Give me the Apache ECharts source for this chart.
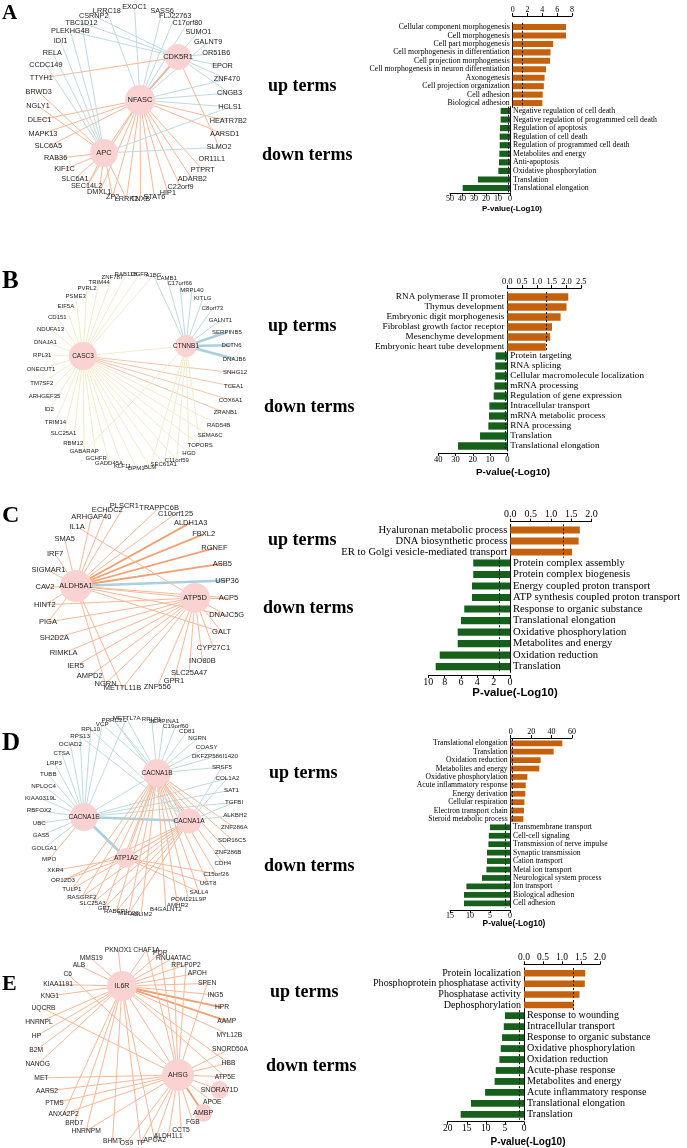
<!DOCTYPE html>
<html>
<head>
<meta charset="utf-8">
<script src="https://cdn.jsdelivr.net/npm/echarts@6/dist/echarts.min.js"></script>
<style>
html, body { margin: 0; padding: 0; background: #fff; }
#main { width: 687px; height: 1148px; }
</style>
</head>
<body>
<div id="main"></div>
<script>
// ---- data: GO terms, -log10 p-values, tick labels, networks ----
var pCut = 1.3;

var aUpTerms = ['Cellular component morphogenesis', 'Cell morphogenesis', 'Cell part morphogenesis', 'Cell morphogenesis in differentiation', 'Cell projection morphogenesis', 'Cell morphogenesis in neuron differentiation', 'Axonogenesis', 'Cell projection organization', 'Cell adhesion', 'Biological adhesion'];
var aUpValues = [7.2, 7.2, 5.45, 5.1, 5.05, 4.5, 4.3, 4.2, 4.05, 4.0];
var aDownTerms = ['Negative regulation of cell death', 'Negative regulation of programmed cell death', 'Regulation of apoptosis', 'Regulation of cell death', 'Regulation of programmed cell death', 'Metabolites and energy', 'Anti-apoptosis', 'Oxidative phosphorylation', 'Translation', 'Translational elongation'];
var aDownValues = [7.8, 7.8, 8.3, 8.6, 8.6, 8.9, 9.2, 9.7, 26.7, 39.4];
var aUpTicks = ['0', '2', '4', '6', '8'];
var aDownTicks = ['0', '10', '20', '30', '40', '50'];
// ring order clockwise from the top, null = empty slot
var aRing = ['EXOC1', null, 'SASS6', 'FLJ22763', 'C17orf80', 'SUMO1', 'GALNT9', 'OR51B6', 'EPOR', 'ZNF470', 'CNGB3', 'HCLS1', 'HEATR7B2', 'AARSD1', 'SLMO2', 'OR11L1', 'PTPRT', 'ADARB2', 'C22orf9', 'HIP1', 'STAT6', 'TNXB', 'LRRK2', 'ZP2', 'DMXL1', 'SEC14L2', 'SLC6A1', 'KIF1C', 'RAB36', 'SLC6A5', 'MAPK13', 'DLEC1', 'NGLY1', 'BRWD3', 'TTYH1', 'CCDC149', 'RELA', 'IDI1', 'PLEKHG4B', 'TBC1D12', 'CSRNP2', 'LRRC18', null];
var aLinks = [
    ['NFASC', 'ot', ['CDK5R1']],
    ['NFASC', 'o', ['APC', 'TNXB', 'LRRK2', 'ZP2', 'STAT6', 'HIP1', 'C22orf9', 'ADARB2', 'PTPRT', 'HEATR7B2', 'DLEC1', 'MAPK13', 'SLC6A5', 'DMXL1', 'SEC14L2', 'AARSD1']],
    ['NFASC', 'b', ['LRRC18', 'EXOC1', 'SASS6', 'FLJ22763', 'C17orf80', 'SUMO1', 'GALNT9', 'ZNF470', 'CNGB3', 'HCLS1']],
    ['CDK5R1', 'o', ['TTYH1', 'SLMO2']],
    ['CDK5R1', 'b', ['TBC1D12', 'CSRNP2', 'PLEKHG4B', 'OR51B6', 'EPOR', 'ZNF470', 'CNGB3']],
    ['APC', 'o', ['BRWD3', 'NGLY1', 'RAB36', 'KIF1C', 'SLC6A1', 'SEC14L2', 'DMXL1', 'ZP2', 'LRRK2']],
    ['APC', 'b', ['IDI1', 'RELA', 'CCDC149', 'PLEKHG4B', 'TBC1D12', 'SLMO2', 'HCLS1']]
];

var bUpTerms = ['RNA polymerase II promoter', 'Thymus development', 'Embryonic digit morphogenesis', 'Fibroblast growth factor receptor', 'Mesenchyme development', 'Embryonic heart tube development'];
var bUpValues = [2.06, 2.0, 1.8, 1.51, 1.45, 1.3];
var bDownTerms = ['Protein targeting', 'RNA splicing', 'Cellular macromolecule localization', 'mRNA processing', 'Regulation of gene expression', 'Intracellular transport', 'mRNA metabolic process', 'RNA processing', 'Translation', 'Translational elongation'];
var bDownValues = [6.8, 7.0, 7.0, 7.5, 7.9, 10.4, 10.6, 11.0, 15.8, 28.6];
var bUpTicks = ['0.0', '0.5', '1.0', '1.5', '2.0', '2.5'];
var bDownTicks = ['0', '10', '20', '30', '40'];
var bRing = ['OGFR', 'A1BG', 'LAMB1', 'C17orf66', 'MRPL40', 'KITLG', 'C8orf73', 'GALNT1', 'SERPINB5', 'DCTN6', 'DNAJB6', 'SNHG12', 'TCEA1', 'COX6A1', 'ZRANB1', 'RAD54B', 'SEMA6C', 'TOPORS', 'HGD', 'C11orf59', 'SEC61A1', 'BLM', 'DPM1', 'KLF11', 'GADD45A', 'GCHFR', 'GABARAP', 'RBM12', 'SLC25A1', 'TRIM14', 'ID2', 'ARHGEF35', 'TM7SF2', 'ONECUT1', 'RPL31', 'DNAJA1', 'NDUFA13', 'CD151', 'EIF5A', 'PSME3', 'PVRL2', 'TRIM44', 'ZNF787', 'RAB11B'];
var bLinks = [
    ['CASC3', 'f', ['OGFR', 'A1BG', 'RAB11B', 'ZNF787', 'TRIM44', 'PVRL2', 'PSME3', 'EIF5A', 'CD151', 'NDUFA13', 'DNAJA1', 'RPL31', 'ONECUT1', 'TM7SF2', 'ARHGEF35', 'ID2', 'TRIM14', 'SLC25A1', 'RBM12', 'GABARAP', 'GCHFR', 'GADD45A', 'KLF11', 'DPM1', 'BLM', 'SEC61A1', 'C11orf59', 'HGD', 'TOPORS', 'SEMA6C', 'RAD54B', 'CTNNB1']],
    ['CASC3', 's', ['SNHG12', 'TCEA1', 'COX6A1', 'ZRANB1']],
    ['CTNNB1', 'b', ['A1BG', 'LAMB1', 'C17orf66', 'MRPL40', 'KITLG', 'C8orf73', 'GALNT1']],
    ['CTNNB1', 'bt', ['SERPINB5', 'DCTN6', 'DNAJB6']],
    ['CTNNB1', 'f', ['HGD', 'C11orf59', 'SEC61A1', 'TOPORS', 'BLM', 'GABARAP']]
];

var cUpTerms = ['Hyaluronan metabolic process', 'DNA biosynthetic process', 'ER to Golgi vesicle-mediated transport'];
var cUpValues = [1.71, 1.68, 1.52];
var cDownTerms = ['Protein complex assembly', 'Protein complex biogenesis', 'Energy coupled proton transport', 'ATP synthesis coupled proton transport', 'Response to organic substance', 'Translational elongation', 'Oxidative phosphorylation', 'Metabolites and energy', 'Oxidation reduction', 'Translation'];
var cDownValues = [4.5, 4.5, 4.65, 4.65, 5.6, 6.0, 6.4, 6.4, 8.6, 9.1];
var cUpTicks = ['0.0', '0.5', '1.0', '1.5', '2.0'];
var cDownTicks = ['0', '2', '4', '6', '8', '10'];
var cRing = ['PLSCR1', null, 'TRAPPC6B', 'C10orf125', 'ALDH1A3', 'FBXL2', 'RGNEF', 'ASB5', 'USP36', 'ACP5', 'DNAJC5G', 'GALT', 'CYP27C1', 'INO80B', 'SLC25A47', 'GPR1', 'ZNF556', null, 'METTL11B', 'NGRN', 'AMPD2', 'IER5', 'RIMKLA', 'SH2D2A', 'PIGA', 'HINT2', 'CAV2', 'SIGMAR1', 'IRF7', 'SMA5', 'IL1A', 'ARHGAP40', 'ECHDC2'];
var cLinks = [
    ['ALDH5A1', 'ot', ['ALDH1A3', 'FBXL2', 'RGNEF', 'ASB5']],
    ['ALDH5A1', 'o', ['ECHDC2', 'PLSCR1', 'TRAPPC6B', 'C10orf125', 'ARHGAP40', 'SMA5', 'IRF7', 'SIGMAR1', 'CAV2', 'HINT2', 'PIGA', 'ATP5D', 'ACP5', 'DNAJC5G', 'METTL11B', 'NGRN', 'GALT']],
    ['ALDH5A1', 'bt', ['USP36']],
    ['ATP5D', 'o', ['IL1A', 'HINT2', 'PIGA', 'SH2D2A', 'RIMKLA', 'IER5', 'AMPD2', 'NGRN', 'METTL11B', 'ZNF556', 'GPR1', 'SLC25A47', 'INO80B', 'CYP27C1', 'GALT', 'DNAJC5G', 'ACP5']]
];

var dUpTerms = ['Translational elongation', 'Translation', 'Oxidation reduction', 'Metabolites and energy', 'Oxidative phosphorylation', 'Acute inflammatory response', 'Energy derivation', 'Cellular respiration', 'Electron transport chain', 'Steroid metabolic process'];
var dUpValues = [50.5, 42, 29.3, 28, 16.3, 14.7, 14.3, 13.4, 13.0, 12.4];
var dDownTerms = ['Transmembrane transport', 'Cell-cell signaling', 'Transmission of nerve impulse', 'Synaptic transmission', 'Cation transport', 'Metal ion transport', 'Neurological system process', 'Ion transport', 'Biological adhesion', 'Cell adhesion'];
var dDownValues = [5.0, 5.3, 5.4, 5.75, 5.75, 5.9, 7.0, 10.9, 11.5, 11.5];
var dUpTicks = ['0', '20', '40', '60'];
var dDownTicks = ['0', '5', '10', '15'];
var dRing = ['RPLP1', 'SERPINA1', 'C19orf60', 'CD81', 'NGRN', 'COASY', 'DKFZP586I1420', 'SRSF5', 'COL1A2', 'SAT1', 'TGFBI', 'ALKBH2', 'ZNF286A', 'SDR16C5', 'ZNF286B', 'CDH4', 'C15orf26', 'UGT8', 'SALL4', 'POM121L9P', 'AMHR2', 'B4GALNT2', null, 'ABLIM2', 'MED23', 'RABEP1', 'GPT', 'SLC25A3', 'RASGRF2', 'TULP1', 'OR12D3', 'XKR4', 'MPO', 'GOLGA1', 'GAS5', 'UBC', 'RBFOX2', 'KIAA0319L', 'NPLOC4', 'TUBB', 'LRP3', 'CTSA', 'OCIAD2', 'RPS13', 'RPL10', 'VCP', 'PRRC2C', 'METTL7A', null];
var dLinks = [
    ['CACNA1E', 'bt', ['CACNA1A', 'ATP1A2']],
    ['CACNA1E', 'b', ['UBC', 'RBFOX2', 'KIAA0319L', 'NPLOC4', 'TUBB', 'LRP3', 'CTSA', 'OCIAD2', 'RPS13', 'RPL10', 'VCP', 'GAS5', 'GOLGA1', 'CACNA1B', 'TGFBI', 'SAT1', 'COL1A2', 'METTL7A']],
    ['CACNA1E', 'o', ['MPO']],
    ['CACNA1B', 'b', ['METTL7A', 'RPLP1', 'SERPINA1', 'C19orf60', 'CD81', 'NGRN', 'COASY', 'DKFZP586I1420', 'SRSF5', 'PRRC2C', 'VCP']],
    ['CACNA1B', 'o', ['ZNF286A', 'SDR16C5', 'ZNF286B', 'CDH4', 'C15orf26', 'UGT8', 'SALL4', 'POM121L9P', 'AMHR2', 'B4GALNT2', 'ABLIM2', 'MED23', 'RABEP1', 'GPT', 'SLC25A3', 'RASGRF2', 'TULP1', 'CACNA1A']],
    ['CACNA1A', 'b', ['RPS13', 'RPL10', 'PRRC2C', 'ALKBH2', 'SRSF5', 'TGFBI', 'COL1A2', 'ATP1A2']],
    ['CACNA1A', 'o', ['GPT', 'RABEP1', 'MED23', 'SLC25A3', 'OR12D3', 'RASGRF2', 'TULP1']],
    ['ATP1A2', 'o', ['XKR4', 'UGT8', 'C15orf26', 'SALL4', 'CACNA1B', 'OR12D3']]
];

var eUpTerms = ['Protein localization', 'Phosphoprotein phosphatase activity', 'Phosphatase activity', 'Dephosphorylation'];
var eUpValues = [1.61, 1.6, 1.46, 1.31];
var eDownTerms = ['Response to wounding', 'Intracellular transport', 'Response to organic substance', 'Oxidative phosphorylation', 'Oxidation reduction', 'Acute-phase response', 'Metabolites and energy', 'Acute inflammatory response', 'Translational elongation', 'Translation'];
var eDownValues = [5.0, 5.3, 5.75, 6.1, 6.45, 7.4, 7.7, 10.2, 13.9, 16.6];
var eUpTicks = ['0.0', '0.5', '1.0', '1.5', '2.0'];
var eDownTicks = ['0', '5', '10', '15', '20'];
var eRing = ['CHAF1A', 'POR', 'RNU4ATAC', 'RPLP0P2', 'APOH', 'SPEN', 'ING5', 'HPR', 'AAMP', 'MYL12B', 'SNORD50A', 'HBB', 'ATP5E', 'SNORA71D', 'APOE', 'AMBP', 'FGB', 'CCT5', 'ALDH1L1', 'APOA2', 'TF', 'OS9', 'BHMT', null, 'HNRNPM', 'BRD7', 'ANXA2P2', 'PTMS', 'AARS2', 'MET', 'NANOG', 'B2M', 'HP', 'HNRNPL', 'UQCRB', 'KNG1', 'KIAA1191', 'C6', 'ALB', 'MMS19', null, 'PKNOX1', null];
var eLinks = [
    ['IL6R', 'o', ['PKNOX1', 'MMS19', 'ALB', 'KIAA1191', 'KNG1', 'CHAF1A', 'POR', 'RNU4ATAC', 'RPLP0P2', 'APOH', 'SPEN', 'ING5', 'HPR', 'AAMP', 'MYL12B', 'HP', 'B2M', 'NANOG', 'HNRNPL', 'BRD7', 'HNRNPM', 'BHMT', 'ANXA2P2', 'AHSG', 'ATP5E', 'HBB', 'TF', 'APOA2']],
    ['IL6R', 'ot', ['AAMP', 'HPR']],
    ['AHSG', 'o', ['C6', 'UQCRB', 'MET', 'AARS2', 'PTMS', 'ANXA2P2', 'OS9', 'TF', 'APOA2', 'ALDH1L1', 'CCT5', 'FGB', 'APOE', 'SNORA71D', 'ATP5E', 'HBB', 'SNORD50A', 'RPLP0P2', 'RNU4ATAC', 'POR', 'CHAF1A', 'SPEN', 'HNRNPM']],
    ['AHSG', 'ot', ['AMBP']]
];

// ---- look ----
var SERIF = '"Liberation Serif", "Times New Roman", serif';
var SANS = '"Liberation Sans", Arial, sans-serif';
var ORANGE = '#c5610d';
var GREEN = '#17601b';
var HUB = '#fbd2d2';
var linkStyles = {
    o: { color: '#f7b898', width: 1 },
    ot: { color: '#f3a072', width: 1.8 },
    b: { color: '#bedbe1', width: 1 },
    bt: { color: '#a9d0dc', width: 2.6 },
    f: { color: '#f2ebcc', width: 1 },
    s: { color: '#f4c6ad', width: 1 }
};

// ---- layout (pixels in the 687x1148 page) ----
var panels = [
    {
        letter: 'A', letterPos: [2, 14, 21], upPos: [268, 86], downPos: [262, 155],
        upTerms: aUpTerms, upValues: aUpValues, downTerms: aDownTerms, downValues: aDownValues,
        upTicks: aUpTicks, downTicks: aDownTicks, ring: aRing, links: aLinks,
        up: { zero: 512.7, width: 59.3, top: 22.8, step: 8.45, axis: 16 },
        down: { zero: 510, width: 60, top: 106.7, step: 8.56, axis: 193 },
        title: [512, 209, 8], termFont: 7.8, tickFont: 8, gap: '28%',
        net: { cx: 134, cy: 103, r: 96, start: 0.3, font: 7.3, hubFont: 7.5,
            hubs: { NFASC: [140, 100, 30], CDK5R1: [178, 57, 26], APC: [104, 153, 28] }, ringHubs: {} }
    },
    {
        letter: 'B', letterPos: [2, 282, 25], upPos: [268, 326], downPos: [264, 407],
        upTerms: bUpTerms, upValues: bUpValues, downTerms: bDownTerms, downValues: bDownValues,
        upTicks: bUpTicks, downTicks: bDownTicks, ring: bRing, links: bLinks,
        up: { zero: 507.3, width: 74, top: 292, step: 10, axis: 288 },
        down: { zero: 507.3, width: 69, top: 351, step: 10, axis: 453 },
        title: [513, 472, 9.9], termFont: 9.2, tickFont: 8.5, gap: '27%',
        net: { cx: 138, cy: 371, r: 97, start: 1, font: 6, hubFont: 6.5,
            hubs: { CASC3: [83, 356, 28], CTNNB1: [186, 346, 22] }, ringHubs: {} }
    },
    {
        letter: 'C', letterPos: [2, 516, 24], upPos: [268, 540], downPos: [263, 608],
        upTerms: cUpTerms, upValues: cUpValues, downTerms: cDownTerms, downValues: cDownValues,
        upTicks: cUpTicks, downTicks: cDownTicks, ring: cRing, links: cLinks,
        up: { zero: 510.3, width: 81.3, top: 524.4, step: 11.1, axis: 521.7 },
        down: { zero: 510, width: 81.7, top: 557.2, step: 11.52, axis: 675 },
        title: [515, 693, 11.4], termFont: 10.6, tickFont: 10, gap: '38%',
        net: { cx: 136.5, cy: 597, r: 92, start: -7.6, font: 7.5, hubFont: 7.5,
            hubs: { ALDH5A1: [76, 586, 32], ATP5D: [195, 598, 30] }, ringHubs: {} }
    },
    {
        letter: 'D', letterPos: [2, 744, 25], upPos: [269, 773], downPos: [264, 866],
        upTerms: dUpTerms, upValues: dUpValues, downTerms: dDownTerms, downValues: dDownValues,
        upTicks: dUpTicks, downTicks: dDownTicks, ring: dRing, links: dLinks,
        up: { zero: 510.7, width: 61.3, top: 739.1, step: 8.41, axis: 738 },
        down: { zero: 510, width: 60, top: 823.1, step: 8.44, axis: 910 },
        title: [514, 924, 8.4], termFont: 7.7, tickFont: 8, gap: '32%',
        net: { cx: 137, cy: 816, r: 98, start: 8.6, font: 6.2, hubFont: 6.6,
            hubs: { CACNA1E: [84, 817, 28], CACNA1B: [157, 773, 28], CACNA1A: [189, 821, 25], ATP1A2: [126, 858, 20] }, ringHubs: {} }
    },
    {
        letter: 'E', letterPos: [2, 984, 22], upPos: [270, 992], downPos: [266, 1066],
        upTerms: eUpTerms, upValues: eUpValues, downTerms: eDownTerms, downValues: eDownValues,
        upTicks: eUpTicks, downTicks: eDownTicks, ring: eRing, links: eLinks,
        up: { zero: 524, width: 76, top: 968, step: 10.56, axis: 964.3 },
        down: { zero: 524, width: 76.3, top: 1010.2, step: 10.96, axis: 1121.7 },
        title: [528, 1142, 10], termFont: 10.1, tickFont: 9.5, gap: '38%',
        net: { cx: 133, cy: 1046, r: 97, start: 8, font: 6.7, hubFont: 7,
            hubs: { IL6R: [122, 986, 30], AHSG: [178, 1075, 32] }, ringHubs: { SNORA71D: 18, AMBP: 18 } }
    }
];

var grids = [{ left: 0, top: 0, width: 687, height: 1148, outerBoundsMode: 'none' }];
var xAxes = [{ type: 'value', gridIndex: 0, min: 0, max: 687, show: false }];
var yAxes = [{ type: 'value', gridIndex: 0, min: 0, max: 1148, inverse: true, show: false }];
var series = [];
var texts = [];

function node(name, xy, size, L) {
    return {
        name: name, value: xy, symbol: 'circle', symbolSize: size || 1,
        itemStyle: { color: size ? HUB : 'rgba(0,0,0,0)' },
        label: { show: true, position: 'inside', fontFamily: SANS, color: '#1e1e1e', fontSize: size ? L.hubFont : L.font }
    };
}

function network(p) {
    var L = p.net;
    var step = 360 / p.ring.length;
    var nodes = [];
    var seen = {};
    p.ring.forEach(function (name, i) {
        if (!name) return;
        var a = (L.start + i * step) * Math.PI / 180;
        nodes.push(node(name, [L.cx + L.r * Math.sin(a), L.cy - L.r * Math.cos(a)], L.ringHubs[name], L));
        seen[name] = true;
    });
    Object.keys(L.hubs).forEach(function (name) {
        var h = L.hubs[name];
        nodes.push(node(name, [h[0], h[1]], h[2], L));
        seen[name] = true;
    });
    var links = [];
    p.links.forEach(function (row) {
        row[2].forEach(function (t) {
            if (seen[row[0]] && seen[t]) {
                links.push({ source: row[0], target: t, lineStyle: linkStyles[row[1]] });
            }
        });
    });
    series.push({
        type: 'graph', layout: 'none', coordinateSystem: 'cartesian2d',
        xAxisIndex: 0, yAxisIndex: 0, silent: true, z: 1,
        data: nodes, links: links,
        lineStyle: { opacity: 1, curveness: 0 },
        emphasis: { disabled: true }
    });
}

function tickAxis(ticks) {
    var nums = ticks.map(Number);
    return { min: nums[0], max: nums[nums.length - 1], interval: nums[1] - nums[0],
        fmt: function (v) {
            for (var i = 0; i < nums.length; i++) if (Math.abs(nums[i] - v) < 1e-6) return ticks[i];
            return '';
        } };
}

function bars(p, k) {
    var gu = 1 + 2 * k, gd = 2 + 2 * k;
    var U = p.up, D = p.down;
    var tu = tickAxis(p.upTicks), td = tickAxis(p.downTicks);
    var upH = p.upTerms.length * U.step, dnH = p.downTerms.length * D.step;
    var axisLine = { show: true, onZero: false, lineStyle: { color: '#000', width: 1 } };
    var tickLabel = function (fmt) {
        return { fontFamily: SERIF, fontSize: p.tickFont, color: '#000', margin: 2, formatter: fmt };
    };
    grids.push({ left: U.zero, top: U.top, width: U.width, height: upH, outerBoundsMode: 'none' });
    grids.push({ left: D.zero - D.width, top: D.top, width: D.width, height: dnH, outerBoundsMode: 'none' });
    xAxes.push({
        type: 'value', gridIndex: gu, position: 'top', offset: U.top - U.axis,
        min: tu.min, max: tu.max, interval: tu.interval,
        axisLine: axisLine, axisTick: { show: true, length: 3, lineStyle: { color: '#000' } },
        axisLabel: tickLabel(tu.fmt), splitLine: { show: false }
    });
    xAxes.push({
        type: 'value', gridIndex: gd, position: 'bottom', inverse: true, offset: D.axis - (D.top + dnH),
        min: td.min, max: td.max, interval: td.interval,
        axisLine: axisLine, axisTick: { show: true, length: 3, lineStyle: { color: '#000' } },
        axisLabel: tickLabel(td.fmt), splitLine: { show: false }
    });
    var catLabel = { fontFamily: SERIF, fontSize: p.termFont, color: '#000', margin: 3, interval: 0 };
    yAxes.push({ type: 'category', gridIndex: gu, data: p.upTerms, inverse: true, position: 'left',
        axisLine: axisLine, axisTick: { show: false }, axisLabel: catLabel });
    yAxes.push({ type: 'category', gridIndex: gd, data: p.downTerms, inverse: true, position: 'right',
        axisLine: axisLine, axisTick: { show: false }, axisLabel: catLabel });
    var mark = {
        silent: true, symbol: ['none', 'none'], label: { show: false },
        lineStyle: { color: '#111', type: [2, 2], width: 1 },
        data: [{ xAxis: pCut }]
    };
    series.push({ type: 'bar', xAxisIndex: gu, yAxisIndex: gu, data: p.upValues, barCategoryGap: p.gap,
        itemStyle: { color: ORANGE }, silent: true, markLine: mark });
    series.push({ type: 'bar', xAxisIndex: gd, yAxisIndex: gd, data: p.downValues, barCategoryGap: p.gap,
        itemStyle: { color: GREEN }, silent: true, markLine: mark });

    texts.push({ type: 'text', style: { text: p.letter, x: p.letterPos[0], y: p.letterPos[1],
        font: 'bold ' + p.letterPos[2] + 'px ' + SERIF, fill: '#000', textAlign: 'left', textVerticalAlign: 'middle', verticalAlign: 'middle' } });
    texts.push({ type: 'text', style: { text: 'up terms', x: p.upPos[0], y: p.upPos[1],
        font: 'bold 18px ' + SERIF, fill: '#000', textAlign: 'left', textVerticalAlign: 'middle', verticalAlign: 'middle' } });
    texts.push({ type: 'text', style: { text: 'down terms', x: p.downPos[0], y: p.downPos[1],
        font: 'bold 18px ' + SERIF, fill: '#000', textAlign: 'left', textVerticalAlign: 'middle', verticalAlign: 'middle' } });
    texts.push({ type: 'text', style: { text: 'P-value(-Log10)', x: p.title[0], y: p.title[1],
        font: 'bold ' + p.title[2] + 'px ' + SANS, fill: '#000', textAlign: 'center', textVerticalAlign: 'middle', verticalAlign: 'middle' } });
}

panels.forEach(function (p, k) {
    network(p);
    bars(p, k);
});

var myChart = echarts.init(document.getElementById('main'));
option = {
    animation: false,
    backgroundColor: '#fff',
    grid: grids,
    xAxis: xAxes,
    yAxis: yAxes,
    series: series,
    graphic: texts
};
myChart.setOption(option);
</script>
</body>
</html>
